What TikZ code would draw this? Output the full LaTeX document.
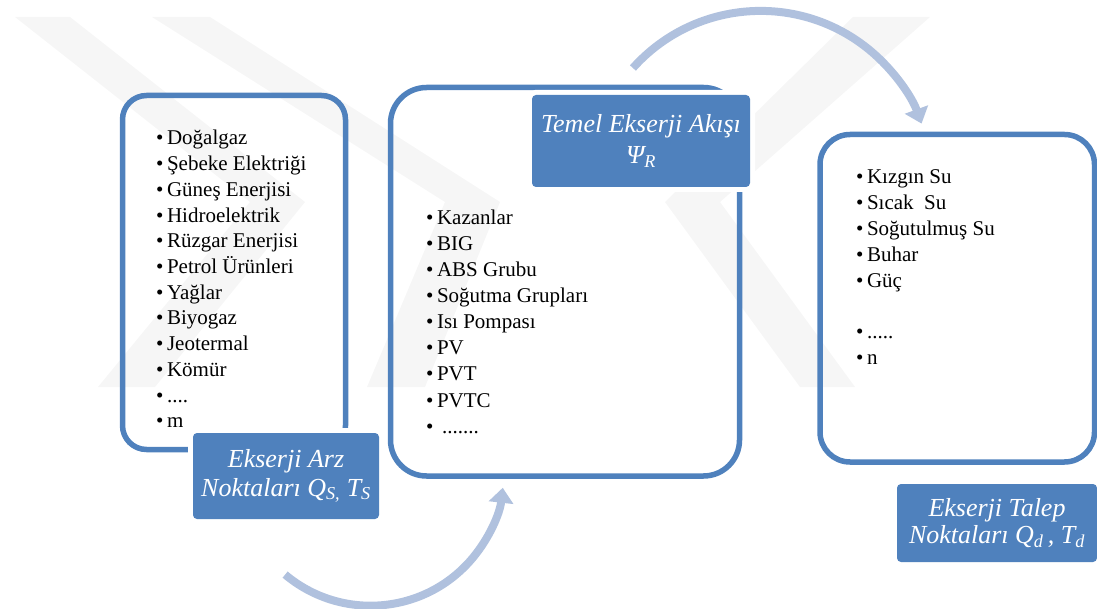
\documentclass[tikz,border=0pt]{standalone}
\usepackage{fontspec}
\setmainfont{Liberation Serif}
\usetikzlibrary{arrows.meta}
\definecolor{boxblue}{RGB}{79,129,189}
\definecolor{flowblue}{RGB}{176,193,222}
\definecolor{wmgray}{RGB}{246,246,246}
% dotted placeholder entries (kept out of \foreach lists, which parse "...")
\newcommand{\fourdots}{....}
\newcommand{\fivedots}{.....}
\newcommand{\sevendots}{\hspace{5pt}.......}
\begin{document}
\begin{tikzpicture}[x=1pt,y=-1pt,
  frame/.style={draw=boxblue, line width=5.5pt, rounded corners=#1, inner sep=0pt},
  tag/.style={fill=boxblue, rounded corners=4pt, preaction={draw=white, line width=10pt},
    text=white, align=center, inner sep=0pt},
  item/.style={anchor=base west, inner sep=0pt, font=\fontsize{21}{25.7}\selectfont},
  flow/.style={draw=flowblue, line width=8pt, -{Triangle[length=15pt,width=24pt]}},
  wm/.style={fill=wmgray, draw=none}]
\useasboundingbox (0,0) rectangle (1097,609);

% faint background emblem
\fill[wm] (15,17) -- (70,17) -- (305,202) -- (155,387) -- (98,387) -- (250,202) -- cycle;
\fill[wm] (152,17) -- (210,17) -- (500,202) -- (425,387) -- (367,387) -- (445,202) -- cycle;
\fill[wm] (853,17) -- (930,17) -- (720,202) -- (855,387) -- (800,387) -- (665,202) -- cycle;

% list frames
\node[frame=24pt, minimum width=223pt, minimum height=354pt] (supply) at (234,272.5) {};
\node[frame=36pt, minimum width=349pt, minimum height=388.5pt] (conv) at (565,281.75) {};
\node[frame=30pt, minimum width=274.5pt, minimum height=327.5pt] (demand) at (957.25,298.25) {};

% supply list
\foreach \t [count=\i from 0] in {Doğalgaz,Şebeke Elektriği,Güneş Enerjisi,Hidroelektrik,Rüzgar Enerjisi,Petrol Ürünleri,Yağlar,Biyogaz,Jeotermal,Kömür,\fourdots,m}
  \node[item] (s\i) at (156,{145+25.7*\i}) {•\hspace{3.5pt}\t};

% conversion list
\foreach \t [count=\i from 0] in {Kazanlar,BIG,ABS Grubu,Soğutma Grupları,Isı Pompası,PV,PVT,PVTC,\sevendots}
  \node[item] (c\i) at (426,{225+26*\i}) {•\hspace{3.5pt}\t};

% demand list
\foreach \k/\t in {0/Kızgın Su,1/Sıcak\ \ Su,2/Soğutulmuş Su,3/Buhar,4/Güç,6/\fivedots,7/n}
  \node[item] (d\k) at (856,{184+25.8*\k}) {•\hspace{3.5pt}\t};

% captions
\node[tag, minimum width=186pt, minimum height=86pt, font=\fontsize{26}{29}\selectfont\itshape]
  (arz) at (286,476) {Ekserji Arz\\Noktaları Q\textsubscript{S,} T\textsubscript{S}};
\node[tag, minimum width=218pt, minimum height=92pt, font=\fontsize{26}{31}\selectfont\itshape]
  (akis) at (641,141) {Temel Ekserji Akışı\\Ψ\textsubscript{R}};
\node[tag, minimum width=200pt, minimum height=78pt, font=\fontsize{26}{27}\selectfont\itshape]
  (talep) at (997,523) {Ekserji Talep\\Noktaları Q\textsubscript{d}\,, T\textsubscript{d}};

% curved flow arrows
\coordinate (c1) at (370.6,472.7);
\coordinate (c2) at (760.6,182.2);
\draw[flow] ([shift={(230:133pt)}]c1) arc[start angle=230, end angle=353.5, radius=133pt];
\draw[flow] ([shift={(138.2:171.3pt)}]c2) arc[start angle=138.2, end angle=20, radius=171.3pt];
\end{tikzpicture}
\end{document}
